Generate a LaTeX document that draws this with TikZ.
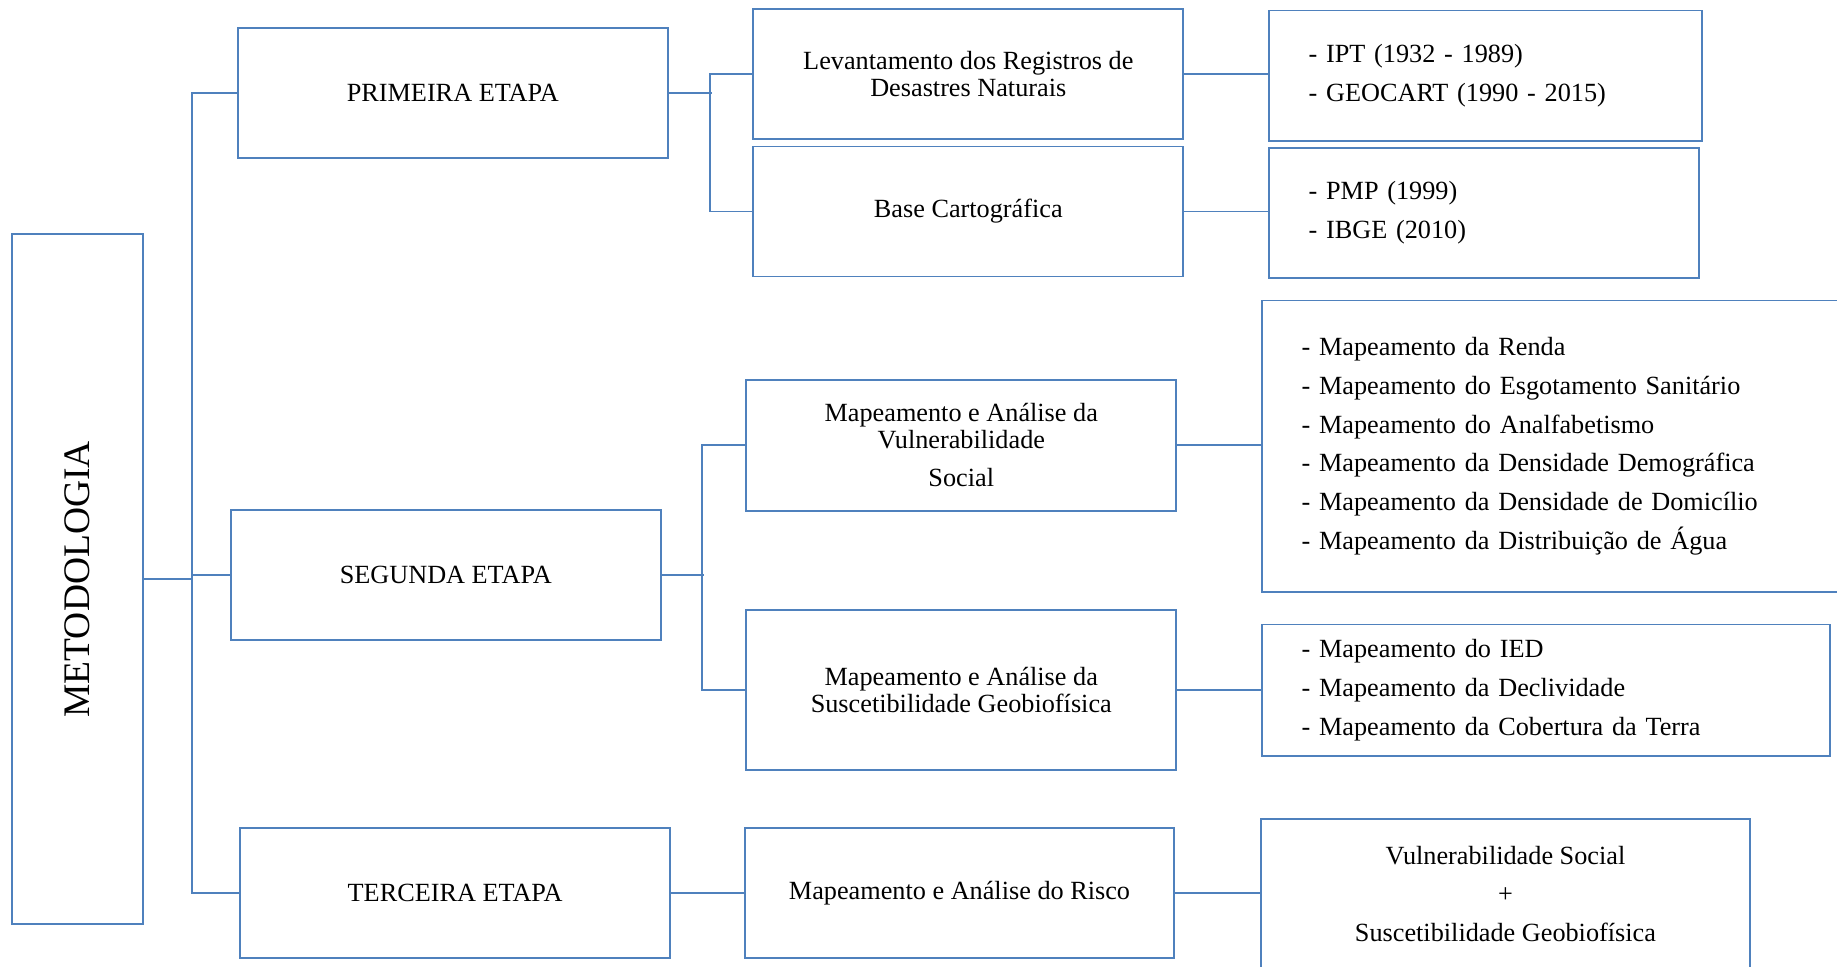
\documentclass[tikz,border=0pt]{standalone}
\usepackage{fontspec}
\setmainfont{Liberation Serif}
\usepackage{tikz}
\definecolor{wordblue}{HTML}{4F81BD}
\tikzset{
    box/.style={rectangle, draw=wordblue, line width=0.8pt, minimum width=183.5pt,
        minimum height=55.5pt, align=center, inner sep=0pt,
        font=\fontsize{11.2}{11.5}\selectfont},
    listbox/.style={box, align=left, inner xsep=17pt,
        font=\fontsize{11.2}{16.5}\selectfont},
    link/.style={draw=wordblue, line width=0.8pt}
}

\begin{document}
\begin{tikzpicture}[x=0.5pt,y=-0.5pt]
        \useasboundingbox (0,0) rectangle (1568,825);
        % left column
        \node[box,minimum width=56pt,minimum height=294.5pt] at (66,494.5) (meto) {\rotatebox{90}{\fontsize{16}{16}\selectfont METODOLOGIA}};
        \node[box] at (386.5,79.5) (etapa1) {PRIMEIRA ETAPA};
        \node[box] at (380.5,490.5) (etapa2) {SEGUNDA ETAPA};
        \node[box] at (388.5,762.5) (etapa3) {TERCEIRA ETAPA};
        % middle column
        \node[box] at (826.5,63.5) (levant) {Levantamento dos Registros de\\Desastres Naturais};
        \node[box] at (826.5,180.5) (basecart) {Base Cartográfica};
        \node[box,minimum height=56pt] at (820.5,380) (vulner) {Mapeamento e Análise da\\Vulnerabilidade\\[5pt]Social};
        \node[box,minimum height=68pt] at (820.5,589) (suscet) {Mapeamento e Análise da\\Suscetibilidade Geobiofísica};
        \node[box,minimum width=183pt] at (819,762.5) (risco) {Mapeamento e Análise do Risco};
        % right column
        \node[listbox,text width=151pt] at (1268,64.5) (fontes) {- IPT (1932 - 1989)\\- GEOCART (1990 - 2015)};
        \node[listbox,text width=149.5pt] at (1266.5,181.5) (bases) {- PMP (1999)\\- IBGE (2010)};
        \node[listbox,text width=221pt,minimum height=124.5pt] at (1332,381) (socmaps) {- Mapeamento da Renda\\- Mapeamento do Esgotamento Sanitário\\- Mapeamento do Analfabetismo\\- Mapeamento da Densidade Demográfica\\- Mapeamento da Densidade de Domicílio\\- Mapeamento da Distribuição de Água};
        \node[listbox,text width=208.5pt,minimum height=56pt] at (1319.5,589) (geomaps) {- Mapeamento do IED\\- Mapeamento da Declividade\\- Mapeamento da Cobertura da Terra};
        \node[box,minimum width=209pt,minimum height=64pt,font=\fontsize{11.2}{16.5}\selectfont] at (1285,763) (soma) {Vulnerabilidade Social\\+\\Suscetibilidade Geobiofísica};
        % trunk
        \draw[link] (meto.east) -- ++(41,0) coordinate (hub);
        \draw[link] (hub) |- (etapa2.west);
        \draw[link] (etapa1.west) -- (etapa1.west -| hub) |- (etapa3.west);
        % first stage
        \draw[link] (etapa1.east) -- ++(37,0);
        \draw[link] (levant.west) -- ++(-36,0) |- (basecart.west);
        \draw[link] (levant.east) -- (levant.east -| fontes.west);
        \draw[link] (basecart.east) -- (basecart.east -| bases.west);
        % second stage
        \draw[link] (etapa2.east) -- ++(36,0);
        \draw[link] (vulner.west) -- ++(-37,0) |- (suscet.west);
        \draw[link] (vulner.east) -- (vulner.east -| socmaps.west);
        \draw[link] (suscet.east) -- (geomaps.west);
        % third stage
        \draw[link] (etapa3.east) -- (risco.west);
        \draw[link] (risco.east) -- (risco.east -| soma.west);
    \end{tikzpicture}
\end{document}
